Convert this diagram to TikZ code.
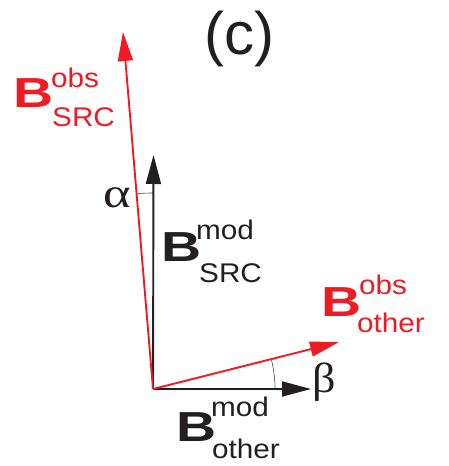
\documentclass[tikz,border=0pt]{standalone}
\usepackage{fontspec}
\usepackage{graphicx}
\setmainfont{Liberation Sans}
\newfontfamily\grkfont{Liberation Serif}
\usetikzlibrary{arrows.meta,calc}
\definecolor{vred}{HTML}{ED1C24}
\definecolor{vblack}{HTML}{231F20}
\tikzset{
  vec/.style={line width=1.9pt,-{Triangle[length=29pt,width=15pt]}},
  anglearc/.style={line width=0.6pt,draw=vblack!80},
  bigB/.style={anchor=base west,inner sep=0pt,font=\fontsize{42}{42}\selectfont\bfseries},
  idx/.style={anchor=base west,inner sep=0pt,font=\fontsize{27}{27}\selectfont},
  greek/.style={inner sep=0pt,font=\grkfont\fontsize{42}{42}\selectfont},
}
\begin{document}
\begin{tikzpicture}[x=1pt,y=1pt]
\useasboundingbox (0,0) rectangle (448,466);
\coordinate (O) at (153,77);
\coordinate (modsrc) at (153.5,311);
\coordinate (modoth) at (311,77);
\coordinate (obssrc) at (123,434);
\coordinate (obsoth) at (339,124);
% arcs
\draw[anglearc] ($(O)+(90:196)$) arc[start angle=90,end angle=94.8,radius=196];
\draw[anglearc] ($(O)+(0:122)$) arc[start angle=0,end angle=14.2,radius=122];
% vectors
\draw[vec,vblack] (O) -- (modsrc);
\draw[vec,vblack] (O) -- (modoth);
\draw[vec,vred] (O) -- (obssrc);
\draw[vec,vred] (O) -- (obsoth);
% title
\node[anchor=base,inner sep=0pt,font=\fontsize{60}{60}\selectfont,text=vblack] (title) at (239,411) {(c)};
% labels
\node[bigB,text=vred] (B1) at (13,358) {\scalebox{1.32}[1]{B}};
\node[idx,text=vred] (B1sup) at (51,378) {\scalebox{1.1}[1]{obs}};
\node[idx,text=vred] (B1sub) at (52,339) {\scalebox{1.1}[1]{SRC}};
\node[bigB,text=vblack] (B2) at (161,204) {\scalebox{1.32}[1]{B}};
\node[idx,text=vblack] (B2sup) at (196,226) {\scalebox{1.1}[1]{mod}};
\node[idx,text=vblack] (B2sub) at (199,183) {\scalebox{1.1}[1]{SRC}};
\node[bigB,text=vred] (B3) at (321,149) {\scalebox{1.32}[1]{B}};
\node[idx,text=vred] (B3sup) at (359,171) {\scalebox{1.1}[1]{obs}};
\node[idx,text=vred] (B3sub) at (357,133) {\scalebox{1.1}[1]{other}};
\node[bigB,text=vblack] (B4) at (176,24) {\scalebox{1.32}[1]{B}};
\node[idx,text=vblack] (B4sup) at (211,49) {\scalebox{1.1}[1]{mod}};
\node[idx,text=vblack] (B4sub) at (212,8) {\scalebox{1.1}[1]{other}};
\node[greek,text=vblack] (alpha) at (117.5,268.5) {\scalebox{1.25}[1]{α}};
\node[greek,text=vblack] (beta) at (324.5,83.5) {\scalebox{1.1}[1]{β}};
\end{tikzpicture}
\end{document}
